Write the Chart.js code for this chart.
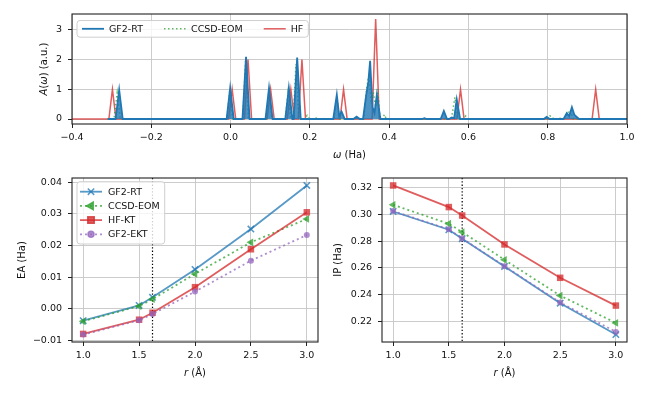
<!DOCTYPE html>
<html>
<head>
<meta charset="utf-8">
<script src="https://cdn.jsdelivr.net/npm/chart.js@4.4.1/dist/chart.umd.min.js"></script>
<style>
body { margin: 0; background: #fff; }
#wrap { position: relative; width: 650px; height: 400px; }
canvas { position: absolute; }
</style>
</head>
<body>
<div id="wrap">
<canvas id="spec" width="650" height="165" style="left:0;top:0"></canvas>
<canvas id="ea" width="330" height="235" style="left:0;top:165px"></canvas>
<canvas id="ip" width="320" height="235" style="left:330px;top:165px"></canvas>
</div>
<script>
// spectral function A(w), top panel
var gf2rtOmega = [-0.31, -0.29, -0.281, -0.272, -0.01, -0.001, 0.008, 0.03, 0.039, 0.048,
    0.088, 0.097, 0.106, 0.138, 0.147, 0.156, 0.159, 0.168, 0.177,
    0.259, 0.268, 0.274, 0.28, 0.288, 0.31, 0.318, 0.326,
    0.334, 0.342, 0.3475, 0.352, 0.358, 0.363, 0.369, 0.378,
    0.483, 0.489, 0.495, 0.53, 0.538, 0.546, 0.551, 0.558, 0.564, 0.5705, 0.579,
    0.79, 0.7975, 0.805, 0.84, 0.848, 0.854, 0.861, 0.867, 0.871, 0.879, 1.0];
var gf2rtA = [0, 0, 0.98, 0, 0, 1.05, 0, 0, 2.1, 0,
    0, 1.05, 0, 0, 1.05, 0, 0, 2.07, 0,
    0, 0.82, 0.1, 0.25, 0, 0, 0.08, 0,
    0, 0.8, 1.25, 1.96, 0.4, 0.2, 0.82, 0,
    0, 0.03, 0, 0, 0.27, 0, 0, 0.05, 0.03, 0.66, 0,
    0, 0.07, 0, 0, 0.2, 0.1, 0.4, 0.15, 0.1, 0, 0];

var ccsdOmega = [-0.31, -0.294, -0.286, -0.278, -0.009, -0.002, 0.005, 0.031, 0.038, 0.045,
    0.09, 0.097, 0.104, 0.138, 0.145, 0.152, 0.158, 0.165, 0.172,
    0.187, 0.193, 0.199, 0.212, 0.216, 0.22, 0.228, 0.232, 0.236,
    0.261, 0.268, 0.275, 0.314, 0.32, 0.326,
    0.336, 0.343, 0.349, 0.355, 0.36, 0.366, 0.371, 0.377, 0.383, 0.388, 0.393,
    0.557, 0.566, 0.573, 0.588, 0.593, 0.598,
    0.8, 0.805, 0.81, 0.815, 0.822, 0.828, 0.834, 0.84, 0.847, 0.856, 0.865, 1.0];
var ccsdA = [0, 0, 0.88, 0, 0, 1.0, 0, 0, 2.0, 0,
    0, 1.0, 0, 0, 0.9, 0, 0, 1.85, 0,
    0, 0.12, 0, 0, 0.03, 0, 0, 0.03, 0,
    0, 0.75, 0, 0, 0.05, 0,
    0, 1.0, 1.5, 0.5, 0.9, 0.4, 1.0, 0, 0, 0.15, 0,
    0, 0.73, 0, 0, 0.1, 0,
    0, 0.1, 0.1, 0, 0, 0.05, 0, 0, 0.15, 0.3, 0, 0];

var hfOmega = [-0.4, -0.307, -0.298, -0.289, -0.005, 0.004, 0.013, 0.035, 0.044, 0.053,
    0.092, 0.101, 0.11, 0.143, 0.152, 0.161, 0.171, 0.18, 0.189,
    0.276, 0.285, 0.294, 0.357, 0.366, 0.375, 0.571, 0.58, 0.589, 0.912, 0.921, 0.93, 1.0];
var hfA = [0, 0, 1.0, 0, 0, 1.0, 0, 0, 2.0, 0,
    0, 1.0, 0, 0, 1.0, 0, 0, 2.0, 0,
    0, 1.0, 0, 0, 3.37, 0, 0, 1.0, 0, 0, 1.0, 0, 0];

var omegaTicks = [-0.4, -0.2, 0.0, 0.2, 0.4, 0.6, 0.8, 1.0];
var specTicks = [0, 1, 2, 3];

// EA / IP against bond length
var bondLengths = [1.0, 1.5, 1.62, 2.0, 2.5, 3.0];
var eaGf2rt  = [-0.0038, 0.0010, 0.0036, 0.0124, 0.0252, 0.0390];
var eaCcsd   = [-0.0040, 0.0008, 0.0030, 0.0110, 0.0210, 0.0284];
var eaHfkt   = [-0.0080, -0.0035, -0.0013, 0.0068, 0.0188, 0.0305];
var eaGf2ekt = [-0.0082, -0.0037, -0.0017, 0.0054, 0.0152, 0.0233];
var ipGf2rt  = [0.3022, 0.2885, 0.2818, 0.2610, 0.2335, 0.2100];
var ipCcsd   = [0.3072, 0.2930, 0.2868, 0.2660, 0.2392, 0.2187];
var ipHfkt   = [0.3217, 0.3055, 0.2992, 0.2775, 0.2525, 0.2317];
var ipGf2ekt = [0.3025, 0.2888, 0.2820, 0.2612, 0.2340, 0.2120];
var rTicks = [1.0, 1.5, 2.0, 2.5, 3.0];
var eaTicks = [-0.01, 0.00, 0.01, 0.02, 0.03, 0.04];
var ipTicks = [0.22, 0.24, 0.26, 0.28, 0.30, 0.32];
var eqBond = 1.62;

var FONT = '"DejaVu Sans", sans-serif';
Chart.defaults.font.family = FONT;
Chart.defaults.font.size = 9.5;
Chart.defaults.color = '#111';

var BLUE = 'rgba(31,119,180,0.75)';
var GREEN = 'rgba(44,160,44,0.75)';
var RED = 'rgba(214,39,40,0.75)';
var PURPLE = 'rgba(148,103,189,0.75)';

function xy(xs, ys) {
    return xs.map(function (v, i) { return { x: v, y: ys[i] }; });
}
function minus(s) { return s.replace('-', '\u2212'); }
function padRange(vals) {
    var lo = Math.min.apply(null, vals), hi = Math.max.apply(null, vals);
    var p = (hi - lo) * 0.05;
    return [lo - p, hi + p];
}
function fixedTicks(list) {
    return function (s) { s.ticks = list.map(function (v) { return { value: v }; }); };
}

var frame = {
    id: 'frame',
    afterDatasetsDraw: function (chart) {
        var a = chart.chartArea, c = chart.ctx;
        c.save();
        c.strokeStyle = '#222';
        c.lineWidth = 1.1;
        c.strokeRect(a.left, a.top, a.right - a.left, a.bottom - a.top);
        c.restore();
    }
};

function richText(ctx, parts, x, y, rot) {
    ctx.save();
    ctx.translate(x, y);
    ctx.rotate(rot || 0);
    ctx.textBaseline = 'middle';
    ctx.fillStyle = '#111';
    var w = 0;
    parts.forEach(function (p) {
        ctx.font = (p[1] ? 'italic ' : '') + '10px ' + FONT;
        w += ctx.measureText(p[0]).width;
    });
    var cx = -w / 2;
    parts.forEach(function (p) {
        ctx.font = (p[1] ? 'italic ' : '') + '10px ' + FONT;
        ctx.fillText(p[0], cx, 0);
        cx += ctx.measureText(p[0]).width;
    });
    ctx.restore();
}

function makeTitles(xParts, yParts, yOffset) {
    return {
        id: 'titles',
        afterDraw: function (chart) {
            var a = chart.chartArea, c = chart.ctx;
            richText(c, xParts, (a.left + a.right) / 2, a.bottom + 31, 0);
            richText(c, yParts, a.left - yOffset, (a.top + a.bottom) / 2, -Math.PI / 2);
        }
    };
}

function drawSample(c, it, x, y) {
    c.save();
    c.strokeStyle = it.color;
    c.lineWidth = it.width || 1.5;
    c.setLineDash(it.dash || []);
    c.beginPath();
    c.moveTo(x, y);
    c.lineTo(x + 22, y);
    c.stroke();
    c.setLineDash([]);
    if (it.marker) {
        c.fillStyle = it.color;
        c.lineWidth = 1.5;
        Chart.helpers.drawPoint(c, { pointStyle: it.marker, radius: it.radius, rotation: it.rot || 0, borderWidth: 1.5 }, x + 11, y);
    }
    c.restore();
}

function legendBox(c, x, y, w, h) {
    c.save();
    c.fillStyle = 'rgba(255,255,255,0.8)';
    c.strokeStyle = '#cfcfcf';
    c.lineWidth = 1;
    c.beginPath();
    if (c.roundRect) c.roundRect(x, y, w, h, 3); else c.rect(x, y, w, h);
    c.fill();
    c.stroke();
    c.restore();
}

// one-row legend of the spectrum
function makeRowLegend(items) {
    return {
        id: 'rowLegend',
        afterDraw: function (chart) {
            var a = chart.chartArea, c = chart.ctx;
            c.font = '9.5px ' + FONT;
            var bx = a.left + 5, by = a.top + 6.5, x = bx + 5;
            var pos = [];
            items.forEach(function (it) {
                pos.push(x);
                x = x + 27 + c.measureText(it.label).width + 21;
            });
            legendBox(c, bx, by, x - 21 + 5 - bx, 16.7);
            items.forEach(function (it, i) {
                drawSample(c, it, pos[i], by + 8.3);
                c.fillStyle = '#111';
                c.textBaseline = 'middle';
                c.font = '9.5px ' + FONT;
                c.fillText(it.label, pos[i] + 27, by + 8.8);
            });
        }
    };
}

// stacked legend of the EA panel
function makeColLegend(items) {
    return {
        id: 'colLegend',
        afterDraw: function (chart) {
            var a = chart.chartArea, c = chart.ctx;
            c.font = '9.5px ' + FONT;
            var wmax = 0;
            items.forEach(function (it) { wmax = Math.max(wmax, c.measureText(it.label).width); });
            var bx = a.left + 5, by = a.top + 3.7, rh = 14.2;
            legendBox(c, bx, by, 31 + wmax + 5, rh * items.length + 5.5);
            items.forEach(function (it, i) {
                var y = by + 10 + i * rh;
                drawSample(c, it, bx + 3, y);
                c.fillStyle = '#111';
                c.textBaseline = 'middle';
                c.font = '9.5px ' + FONT;
                c.fillText(it.label, bx + 31, y + 0.5);
            });
        }
    };
}

var eqLine = {
    id: 'eqLine',
    beforeDatasetsDraw: function (chart) {
        var a = chart.chartArea, c = chart.ctx;
        var x = chart.scales.x.getPixelForValue(eqBond);
        c.save();
        c.strokeStyle = '#000';
        c.lineWidth = 1.2;
        c.setLineDash([1.3, 2]);
        c.beginPath();
        c.moveTo(x, a.top);
        c.lineTo(x, a.bottom);
        c.stroke();
        c.restore();
    }
};

function gridOpts() {
    return { color: '#c6c6c6', lineWidth: 0.9, tickColor: '#222', tickLength: 4, tickWidth: 1 };
}

// ---- spectrum ----
var specRange = padRange(hfA.concat(gf2rtA, ccsdA));
new Chart(document.getElementById('spec'), {
    type: 'line',
    data: {
        datasets: [
            { label: 'GF2-RT', data: xy(gf2rtOmega, gf2rtA), borderColor: '#1f77b4', backgroundColor: 'rgba(31,119,180,0.8)',
              fill: 'origin', borderWidth: 1.8, pointRadius: 0, tension: 0, order: 1 },
            { label: 'CCSD-EOM', data: xy(ccsdOmega, ccsdA), borderColor: GREEN, borderDash: [1.5, 2.5],
              borderWidth: 1.5, pointRadius: 0, fill: false, tension: 0, order: 2 },
            { label: 'HF', data: xy(hfOmega, hfA), borderColor: RED, borderWidth: 1.5, pointRadius: 0,
              fill: false, tension: 0, order: 3 }
        ]
    },
    options: {
        responsive: false,
        animation: false,
        layout: { padding: { left: 0, top: 14, right: 23, bottom: 0 } },
        plugins: { legend: { display: false }, tooltip: { enabled: false } },
        scales: {
            x: {
                type: 'linear', min: -0.4, max: 1.0,
                afterBuildTicks: fixedTicks(omegaTicks),
                afterFit: function (s) { s.height = 41; },
                ticks: { padding: 4, maxRotation: 0, autoSkip: false,
                         callback: function (v) { return minus(v.toFixed(1)); } },
                grid: gridOpts(),
                border: { display: false }
            },
            y: {
                type: 'linear', min: specRange[0], max: specRange[1],
                afterBuildTicks: fixedTicks(specTicks),
                afterFit: function (s) { s.width = 72; },
                ticks: { padding: 6, callback: function (v) { return String(v); } },
                grid: gridOpts(),
                border: { display: false }
            }
        }
    },
    plugins: [frame,
        makeRowLegend([
            { label: 'GF2-RT', color: '#1f77b4', width: 1.8 },
            { label: 'CCSD-EOM', color: GREEN, dash: [1.5, 2.5] },
            { label: 'HF', color: RED }
        ]),
        makeTitles([['\u03c9', 1], [' (Ha)', 0]], [['A', 1], ['(', 0], ['\u03c9', 1], [') (a.u.)', 0]], 28)]
});

// ---- EA / IP panels ----
function lineSets(gf2rt, ccsd, hfkt, gf2ekt) {
    return [
        { label: 'GF2-RT', data: xy(bondLengths, gf2rt), borderColor: BLUE, backgroundColor: BLUE,
          borderWidth: 1.8, pointStyle: 'crossRot', pointRadius: 4.5, pointBorderWidth: 1.6, order: 4 },
        { label: 'CCSD-EOM', data: xy(bondLengths, ccsd), borderColor: GREEN, backgroundColor: GREEN,
          borderWidth: 1.8, borderDash: [2, 3], pointStyle: 'triangle', pointRotation: -90, pointRadius: 4.5,
          pointBorderWidth: 0, order: 3 },
        { label: 'HF-KT', data: xy(bondLengths, hfkt), borderColor: RED, backgroundColor: RED,
          borderWidth: 1.8, pointStyle: 'rect', pointRadius: 4.6, pointBorderWidth: 0, order: 2 },
        { label: 'GF2-EKT', data: xy(bondLengths, gf2ekt), borderColor: PURPLE, backgroundColor: PURPLE,
          borderWidth: 1.8, borderDash: [2, 3], pointStyle: 'circle', pointRadius: 3, pointBorderWidth: 0, order: 1 }
    ];
}

function panelOptions(yTicks, yRange, yWidth, rightPad) {
    return {
        responsive: false,
        animation: false,
        layout: { padding: { left: 0, top: 13, right: rightPad, bottom: 0 } },
        plugins: { legend: { display: false }, tooltip: { enabled: false } },
        scales: {
            x: {
                type: 'linear', min: 0.9, max: 3.1,
                afterBuildTicks: fixedTicks(rTicks),
                afterFit: function (s) { s.height = 58; },
                ticks: { padding: 4, maxRotation: 0, autoSkip: false,
                         callback: function (v) { return v.toFixed(1); } },
                grid: gridOpts(),
                border: { display: false }
            },
            y: {
                type: 'linear', min: yRange[0], max: yRange[1],
                afterBuildTicks: fixedTicks(yTicks),
                afterFit: function (s) { s.width = yWidth; },
                ticks: { padding: 6, callback: function (v) { return minus(v.toFixed(2)); } },
                grid: gridOpts(),
                border: { display: false }
            }
        }
    };
}

var eaRange = padRange(eaGf2rt.concat(eaCcsd, eaHfkt, eaGf2ekt));
new Chart(document.getElementById('ea'), {
    type: 'line',
    data: { datasets: lineSets(eaGf2rt, eaCcsd, eaHfkt, eaGf2ekt) },
    options: panelOptions(eaTicks, eaRange, 72, 12),
    plugins: [eqLine, frame,
        makeColLegend([
            { label: 'GF2-RT', color: BLUE, width: 1.8, marker: 'crossRot', radius: 4.5 },
            { label: 'CCSD-EOM', color: GREEN, width: 1.8, dash: [2, 3], marker: 'triangle', rot: -90, radius: 4.5 },
            { label: 'HF-KT', color: RED, width: 1.8, marker: 'rect', radius: 4.6 },
            { label: 'GF2-EKT', color: PURPLE, width: 1.8, dash: [2, 3], marker: 'circle', radius: 3 }
        ]),
        makeTitles([['r', 1], [' (\u00c5)', 0]], [['EA (Ha)', 0]], 50)]
});

var ipRange = padRange(ipGf2rt.concat(ipCcsd, ipHfkt, ipGf2ekt));
new Chart(document.getElementById('ip'), {
    type: 'line',
    data: { datasets: lineSets(ipGf2rt, ipCcsd, ipHfkt, ipGf2ekt) },
    options: panelOptions(ipTicks, ipRange, 52, 23),
    plugins: [eqLine, frame,
        makeTitles([['r', 1], [' (\u00c5)', 0]], [['IP (Ha)', 0]], 44)]
});
</script>
</body>
</html>
